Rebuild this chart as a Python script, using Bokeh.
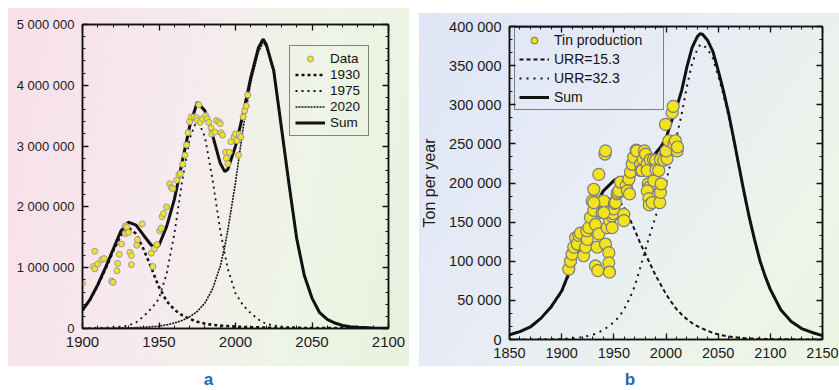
from bokeh.plotting import figure
from bokeh.models import FixedTicker, LinearAxis, Legend, LegendItem, Div, Range1d
from bokeh.layouts import row, column
from bokeh.embed import file_html
from bokeh.resources import INLINE

FONT = "Liberation Sans"

# ---------------- Panel a : data ----------------
a_data_year = [1900, 1907, 1908, 1908, 1910, 1912.5, 1914, 1919, 1920, 1922.5, 1923, 1924,
               1925.5, 1928, 1928, 1929, 1930, 1931, 1932, 1932, 1935.5, 1936, 1939, 1945,
               1946, 1947, 1948.5, 1950.5, 1951.5, 1952, 1953, 1955, 1957, 1958, 1959, 1961.5,
               1963, 1964, 1965.5, 1967, 1968, 1969, 1970, 1971, 1973, 1974.5, 1976, 1975,
               1977, 1978.5, 1980.5, 1981.5, 1982.5, 1984, 1984.5, 1986.5, 1987.5, 1989, 1990,
               1990.5, 1991.5, 1993.5, 1994, 1995, 1996, 1997, 1999, 2000, 2001, 2002, 2002.5,
               2003.5, 2005, 2006, 2007, 2008]
a_data_value = [0.74, 1.02, 1.27, 0.98, 1.06, 1.13, 1.15, 0.78, 0.76, 0.95, 1.07, 1.22,
                1.39, 1.56, 1.69, 1.67, 1.58, 1.25, 1.20, 1.05, 1.37, 1.46, 1.72, 1.24,
                1.02, 1.31, 1.38, 1.61, 1.65, 1.84, 1.89, 2.00, 2.38, 2.32, 2.30, 2.44,
                2.53, 2.55, 2.70, 2.85, 3.02, 3.22, 3.40, 3.48, 3.48, 3.47, 3.68, 3.42,
                3.39, 3.45, 3.50, 3.45, 3.39, 3.30, 3.20, 3.23, 3.42, 3.40, 3.37,
                3.22, 3.18, 2.90, 2.80, 2.71, 2.90, 3.07, 3.15, 3.20, 3.09, 2.85, 3.19,
                3.15, 3.48, 3.58, 3.66, 3.84]

a_curve_year = [1900, 1905, 1910, 1915, 1920, 1925, 1930, 1935, 1940, 1945, 1948, 1950,
                1955, 1960, 1965, 1970, 1975, 1980, 1985, 1990, 1993, 1995, 2000, 2005,
                2010, 2015, 2018, 2020, 2025, 2030, 2035, 2040, 2045, 2050, 2055, 2060,
                2065, 2070, 2075, 2080, 2090, 2100]
a_sum = [0.30, 0.48, 0.72, 1.00, 1.30, 1.60, 1.75, 1.70, 1.53, 1.37, 1.33, 1.37,
         1.68, 2.12, 2.72, 3.32, 3.72, 3.58, 3.18, 2.72, 2.58, 2.62, 3.00, 3.53,
         4.13, 4.62, 4.76, 4.68, 4.24, 3.31, 2.37, 1.48, 0.87, 0.50, 0.26, 0.15,
         0.09, 0.05, 0.03, 0.02, 0.01, 0.005]
a_c1930 = [0.30, 0.48, 0.71, 0.98, 1.27, 1.53, 1.66, 1.56, 1.30, 1.00, 0.80, 0.68,
           0.45, 0.31, 0.22, 0.16, 0.11, 0.08, 0.06, 0.05, 0.04, 0.04, 0.03, 0.025,
           0.02, 0.02, 0.015, 0.015, 0.012, 0.01, 0.01, 0.01, 0.008, 0.008, 0.007, 0.007,
           0.006, 0.006, 0.006, 0.005, 0.005, 0.005]
a_c1975 = [0.0, 0.005, 0.01, 0.015, 0.02, 0.03, 0.05, 0.10, 0.20, 0.33, 0.42, 0.50,
           0.90, 1.55, 2.40, 3.12, 3.45, 3.15, 2.45, 1.62, 1.22, 0.98, 0.58, 0.38,
           0.25, 0.15, 0.10, 0.08, 0.05, 0.03, 0.02, 0.015, 0.01, 0.01, 0.008, 0.008,
           0.007, 0.006, 0.006, 0.005, 0.005, 0.005]
a_c2020 = [0.0, 0.0, 0.0, 0.005, 0.005, 0.01, 0.01, 0.015, 0.02, 0.03, 0.035, 0.04,
           0.06, 0.09, 0.13, 0.19, 0.28, 0.42, 0.65, 1.02, 1.35, 1.62, 2.40, 3.30,
           4.05, 4.55, 4.70, 4.65, 4.20, 3.29, 2.35, 1.47, 0.86, 0.49, 0.26, 0.145,
           0.085, 0.045, 0.03, 0.02, 0.01, 0.005]

a_x_ticks = [1900, 1950, 2000, 2050, 2100]
a_x_labels = ["1900", "1950", "2000", "2050", "2100"]
a_y_ticks = [0, 1000000, 2000000, 3000000, 4000000, 5000000]
a_y_labels = ["0", "1 000 000", "2 000 000", "3 000 000", "4 000 000", "5 000 000"]
a_legend = ["Data", "1930", "1975", "2020", "Sum"]

# ---------------- Panel b : data ----------------
b_data_year = [1906.8, 1908.5, 1910, 1911.6, 1913.3, 1915, 1916.4, 1918, 1921, 1923,
               1924.5, 1924, 1926, 1927.6, 1929.3, 1930.8, 1930.8, 1932.4, 1932.4, 1934,
               1934.6, 1935.6, 1935.6, 1937.2, 1938.8, 1940.4, 1941.5, 1942, 1942, 1943.6,
               1945.2, 1945.2, 1945.8, 1946, 1948.4, 1948.4, 1949.4, 1950, 1950.6, 1951.6,
               1953.2, 1953.7, 1954.8, 1956.4, 1959.6, 1959.6, 1962, 1963, 1964.4, 1965,
               1966, 1967.6, 1969, 1971.4, 1972, 1975.6, 1976, 1977.2, 1978, 1979.4,
               1980.4, 1982, 1982, 1983, 1983.5, 1982, 1983.5, 1984, 1986.8, 1985,
               1988, 1988.3, 1990, 1990.5, 1993, 1994, 1994.7, 1995.4, 1994.7, 1997.9,
               2000, 2001, 2000.2, 2002.7, 2007.5, 2009, 2010.7, 2011, 1999.5, 2005.9,
               2006.9, 1940.4, 1930.8]
b_data_value = [90, 100, 109, 118, 130, 122, 133, 136, 107, 118,
                128, 139, 143, 156, 177, 165, 192, 147, 94, 118,
                88, 135, 211, 177, 162, 177, 237, 241, 122, 143,
                111, 98, 86, 152, 158, 143, 161, 167, 174, 175,
                186, 188, 190, 201, 160, 152, 197, 190, 205, 186,
                214, 224, 233, 242, 241, 224, 216, 216, 230, 241,
                237, 224, 216, 199, 194, 190, 180, 172, 175, 230,
                230, 203, 229, 217, 216, 175, 188, 199, 230, 229,
                239, 231, 241, 254, 250, 254, 241, 246, 275, 290,
                298, 162, 175]

b_curve_year = [1850, 1860, 1870, 1880, 1890, 1900, 1910, 1920, 1930, 1940, 1950, 1955,
                1960, 1965, 1970, 1975, 1980, 1985, 1990, 1995, 2000, 2005, 2010, 2015,
                2020, 2025, 2030, 2033, 2035, 2040, 2045, 2050, 2055, 2060, 2065, 2070,
                2075, 2080, 2085, 2090, 2095, 2100, 2110, 2120, 2130, 2140, 2150]
b_sum = [6, 10, 16, 27, 42, 62, 95, 130, 166, 190, 203, 207,
         207, 206, 210, 221, 228, 232, 238, 246, 257, 278, 296, 318,
         348, 373, 387, 391, 390, 382, 368, 344, 318, 289, 256, 221,
         187, 155, 127, 101, 81, 64, 38, 23, 14, 9, 5]
b_urr153 = [6, 10, 16, 27, 41, 61, 93, 127, 160, 178, 181, 178,
            168, 155, 140, 124, 110, 96, 82, 70, 58, 48, 39, 32,
            26, 21, 17, 15, 14, 11, 8.5, 6.5, 5, 4, 3, 2.3,
            1.8, 1.4, 1.1, 0.9, 0.7, 0.5, 0.3, 0.2, 0.1, 0.1, 0.05]
b_urr323 = [0, 0.1, 0.1, 0.2, 0.4, 0.8, 1.5, 3, 6, 12, 22, 29,
            39, 52, 68, 90, 114, 136, 157, 178, 200, 230, 258, 288,
            323, 353, 371, 377, 377, 371, 359, 337, 313, 285, 253, 219,
            185, 154, 126, 100, 80, 63, 38, 23, 14, 9, 5]

b_x_ticks = [1850, 1900, 1950, 2000, 2050, 2100, 2150]
b_x_labels = ["1850", "1900", "1950", "2000", "2050", "2100", "2150"]
b_y_ticks = [0, 50000, 100000, 150000, 200000, 250000, 300000, 350000, 400000]
b_y_labels = ["0", "50 000", "100 000", "150 000", "200 000", "250 000", "300 000",
              "350 000", "400 000"]
b_legend = ["Tin production", "URR=15.3", "URR=32.3", "Sum"]
b_y_title = "Ton per year"

INK = "#111111"
YELLOW = "#f3e31c"


def style_axis(ax, ticks, minor, labels, fs, show=True):
    ax.ticker = FixedTicker(ticks=ticks, minor_ticks=minor)
    if show:
        ax.major_label_overrides = {t: l for t, l in zip(ticks, labels)}
        ax.major_label_text_font_size = fs
        ax.major_label_standoff = 8
    else:
        ax.major_label_overrides = {t: "" for t in ticks}
        ax.major_label_text_font_size = "6px"
        ax.major_label_standoff = 0
    ax.major_label_text_font = FONT
    ax.major_label_text_color = "#1a1a1a"
    ax.major_tick_in = 6
    ax.major_tick_out = 0
    ax.minor_tick_in = 3
    ax.minor_tick_out = 0
    ax.axis_line_color = INK
    ax.axis_line_width = 1.5
    ax.major_tick_line_color = INK
    ax.major_tick_line_width = 1.3
    ax.minor_tick_line_color = INK
    ax.minor_tick_line_width = 1


def make_fig(width, height, xr, yr, bl, br, bt, bb, bg):
    p = figure(width=width, height=height, x_range=Range1d(*xr), y_range=Range1d(*yr),
               output_backend="svg", toolbar_location=None,
               min_border_left=bl, min_border_right=br, min_border_top=bt,
               min_border_bottom=bb, border_fill_color=None, background_fill_color=None,
               outline_line_color=INK, outline_line_width=1.5,
               styles={"background": bg})
    p.grid.visible = False
    return p


# ---------------- Panel a ----------------
pa = make_fig(401, 358, (1900, 2100), (0, 5000000), 74, 21, 16, 38,
              "linear-gradient(100deg, #f8dfe9 0%, #f6eaee 40%, #eef4e6 70%, #e8f2de 100%)")
ya = lambda vals: [v * 1000000 for v in vals]
r_a1930 = pa.line(a_curve_year, ya(a_c1930), line_color=INK, line_width=2.6, line_dash="3 3")
r_a1975 = pa.line(a_curve_year, ya(a_c1975), line_color=INK, line_width=1.8, line_dash="2 4")
r_a2020 = pa.line(a_curve_year, ya(a_c2020), line_color=INK, line_width=1.6, line_dash="2 1")
r_asum = pa.line(a_curve_year, ya(a_sum), line_color=INK, line_width=3)
r_adata = pa.scatter(a_data_year, ya(a_data_value), size=6, fill_color=YELLOW,
                     line_color="#9a9aaa", line_width=1)

a_minor_x = list(range(1900, 2101, 10))
a_minor_y = list(range(0, 5000001, 200000))
style_axis(pa.xaxis[0], a_x_ticks, a_minor_x, a_x_labels, "15px")
style_axis(pa.yaxis[0], a_y_ticks, a_minor_y, a_y_labels, "13px")
ta = LinearAxis()
style_axis(ta, a_x_ticks, a_minor_x, a_x_labels, "6px", show=False)
pa.add_layout(ta, "above")
ra = LinearAxis()
style_axis(ra, a_y_ticks, a_minor_y, a_y_labels, "6px", show=False)
pa.add_layout(ra, "right")

leg_a = Legend(items=[LegendItem(label=a_legend[0], renderers=[r_adata]),
                      LegendItem(label=a_legend[1], renderers=[r_a1930]),
                      LegendItem(label=a_legend[2], renderers=[r_a1975]),
                      LegendItem(label=a_legend[3], renderers=[r_a2020]),
                      LegendItem(label=a_legend[4], renderers=[r_asum])],
               location=(207, 192))
leg_a.label_text_font = FONT
leg_a.label_text_font_size = "13.5px"
leg_a.label_text_color = "#111111"
leg_a.glyph_width = 30
leg_a.glyph_height = 15
leg_a.label_height = 15
leg_a.label_width = 33
leg_a.label_standoff = 5
leg_a.spacing = 1
leg_a.padding = 5
leg_a.margin = 0
leg_a.border_line_color = INK
leg_a.border_line_width = 1.5
leg_a.background_fill_alpha = 0
pa.add_layout(leg_a)

# ---------------- Panel b ----------------
pb = make_fig(430, 358, (1850, 2150), (0, 400000), 100, 17, 18, 27,
              "linear-gradient(125deg, #dfe5f6 0%, #e7ecf5 45%, #eef4e8 80%, #ebf3e2 100%) 10px 5px / calc(100% - 10px) 353px no-repeat")
yb = lambda vals: [v * 1000 for v in vals]
r_b153 = pb.line(b_curve_year, yb(b_urr153), line_color=INK, line_width=2, line_dash="4 3")
r_b323 = pb.line(b_curve_year, yb(b_urr323), line_color=INK, line_width=2, line_dash="2 5")
r_bsum = pb.line(b_curve_year, yb(b_sum), line_color=INK, line_width=3)
r_bdata = pb.scatter(b_data_year, yb(b_data_value), size=12, fill_color=YELLOW,
                     line_color="#7c7c80", line_width=1.2)

b_minor_x = list(range(1850, 2151, 10))
b_minor_y = [v * 50000 / 3 for v in range(0, 25)]
style_axis(pb.xaxis[0], b_x_ticks, b_minor_x, b_x_labels, "14.5px")
style_axis(pb.yaxis[0], b_y_ticks, b_minor_y, b_y_labels, "14.5px")
pb.yaxis[0].axis_label = b_y_title
pb.yaxis[0].axis_label_text_font = FONT
pb.yaxis[0].axis_label_text_font_size = "16px"
pb.yaxis[0].axis_label_text_font_style = "normal"
pb.yaxis[0].axis_label_text_color = "#1a1a1a"
pb.yaxis[0].axis_label_standoff = 8
tb = LinearAxis()
style_axis(tb, b_x_ticks, b_minor_x, b_x_labels, "6px", show=False)
pb.add_layout(tb, "above")
rb = LinearAxis()
style_axis(rb, b_y_ticks, b_minor_y, b_y_labels, "6px", show=False)
pb.add_layout(rb, "right")

leg_b = Legend(items=[LegendItem(label=b_legend[0], renderers=[r_bdata]),
                      LegendItem(label=b_legend[1], renderers=[r_b153]),
                      LegendItem(label=b_legend[2], renderers=[r_b323]),
                      LegendItem(label=b_legend[3], renderers=[r_bsum])],
               location=(5, 229))
leg_b.label_text_font = FONT
leg_b.label_text_font_size = "14px"
leg_b.label_text_color = "#111111"
leg_b.glyph_width = 30
leg_b.glyph_height = 16
leg_b.label_height = 16
leg_b.label_width = 105
leg_b.label_standoff = 5
leg_b.spacing = 3
leg_b.padding = 4
leg_b.margin = 0
leg_b.border_line_color = INK
leg_b.border_line_width = 1.5
leg_b.background_fill_alpha = 0
pb.add_layout(leg_b)

lab_style = ("box-sizing:border-box;text-align:center;color:#1f68ad;"
             "font-family:'Liberation Sans',Arial,sans-serif;font-weight:bold;"
             "font-size:17px;line-height:13px;padding-top:7px;")
div_a = Div(text=f'<div style="{lab_style}width:401px;">a</div>',
            width=401, height=24, margin=0)
div_b = Div(text=f'<div style="{lab_style}padding-left:12px;width:430px;">b</div>',
            width=430, height=24, margin=0)

layout = row(column(pa, div_a, spacing=0), column(pb, div_b, spacing=0), spacing=0,
             margin=(8, 0, 0, 8))

open("out.html", "w").write(file_html(layout, INLINE))
